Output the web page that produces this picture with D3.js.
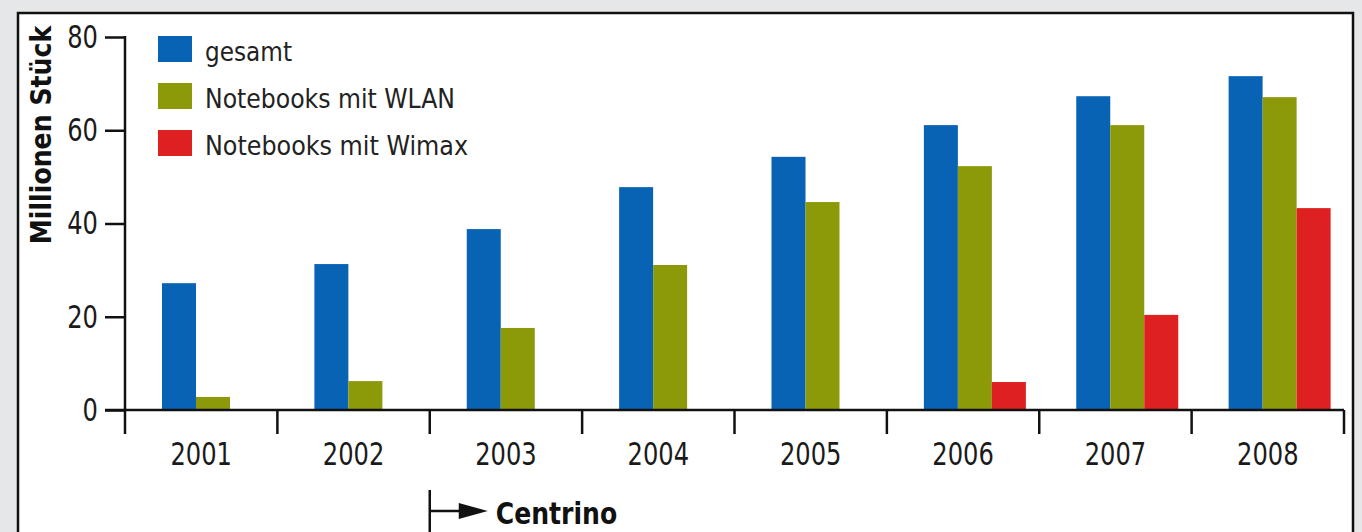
<!DOCTYPE html>
<html lang="de">
<head>
    <meta charset="UTF-8">
    <title>Notebooks mit WLAN und Wimax</title>
    <script src="https://d3js.org/d3.v7.min.js"></script>
    <style>
        body {
            margin: 0;
            background: #e6e7e9;
        }
        svg text {
            font-family: "Liberation Sans Narrow", "DejaVu Sans Condensed", sans-serif;
        }
    </style>
</head>
<body>
    <div id="chart"></div>

    <script>
        // Data (Millionen Stück)
        const years = ["2001", "2002", "2003", "2004", "2005", "2006", "2007", "2008"];
        const seriesNames = ["gesamt", "Notebooks mit WLAN", "Notebooks mit Wimax"];
        const gesamt = [27.2, 31.3, 38.8, 47.8, 54.3, 61.1, 67.3, 71.6];
        const wlan = [2.8, 6.2, 17.6, 31.1, 44.6, 52.3, 61.1, 67.1];
        const wimax = [0, 0, 0, 0, 0, 6.0, 20.4, 43.3];
        const yTicks = [0, 20, 40, 60, 80];
        const colors = ["#0863b5", "#8c9a0a", "#de2120"];

        const seriesValues = [gesamt, wlan, wimax];
        const rows = years.map((yr, i) => ({
            year: yr,
            values: seriesNames.map((s, j) => ({ key: s, value: seriesValues[j][i] }))
        }));

        const W = 1362, H = 532;
        const squeeze = 0.84; // the original font is narrower than the ones we have

        const svg = d3.select("#chart")
            .append("svg")
            .attr("width", W)
            .attr("height", H);

        // white panel with black frame
        svg.append("rect")
            .attr("x", 18)
            .attr("y", 13)
            .attr("width", 1335)
            .attr("height", 560)
            .attr("fill", "#fff")
            .attr("stroke", "#111")
            .attr("stroke-width", 2.5);

        // scales
        const x = d3.scaleBand()
            .domain(years)
            .range([125, 1344]);

        const x1 = d3.scaleBand()
            .domain(seriesNames)
            .range([37, 139]);

        const y = d3.scaleLinear()
            .domain([0, 80])
            .range([410, 37]);

        const color = d3.scaleOrdinal().domain(seriesNames).range(colors);

        // bars
        const groups = svg.selectAll(".year")
            .data(rows)
            .enter()
            .append("g")
            .attr("class", "year")
            .attr("transform", d => `translate(${x(d.year)},0)`);

        groups.selectAll("rect")
            .data(d => d.values.filter(v => v.value > 0))
            .enter()
            .append("rect")
            .attr("x", d => x1(d.key))
            .attr("width", x1.bandwidth())
            .attr("y", d => y(d.value))
            .attr("height", d => y(0) - y(d.value))
            .attr("fill", d => color(d.key));

        // y axis
        const yAxis = svg.append("g")
            .attr("transform", "translate(125,0)")
            .call(d3.axisLeft(y).tickValues(yTicks).tickSize(20).tickSizeOuter(0).tickPadding(8));
        yAxis.select(".domain").remove();
        yAxis.selectAll(".tick line").attr("stroke", "#111").attr("stroke-width", 2.5);
        yAxis.selectAll(".tick text")
            .attr("x", -27 / squeeze)
            .attr("transform", `scale(${squeeze},1)`)
            .attr("font-size", 32)
            .attr("fill", "#1a1a1a");

        svg.append("line")
            .attr("x1", 125).attr("x2", 125)
            .attr("y1", y(80) - 1).attr("y2", 434)
            .attr("stroke", "#111")
            .attr("stroke-width", 2.5);

        // x axis (labels centred in bands)
        const xAxis = svg.append("g")
            .attr("transform", `translate(0,${y(0)})`)
            .call(d3.axisBottom(x).tickSize(0).tickPadding(32));
        xAxis.select(".domain").remove();
        xAxis.selectAll(".tick text")
            .attr("transform", `scale(${squeeze},1)`)
            .attr("font-size", 32)
            .attr("fill", "#1a1a1a");

        svg.append("line")
            .attr("x1", 105).attr("x2", x.range()[1])
            .attr("y1", y(0)).attr("y2", y(0))
            .attr("stroke", "#111")
            .attr("stroke-width", 2.5);

        // band boundary ticks
        const bounds = years.map(d => x(d)).concat([x.range()[1]]);
        svg.selectAll(".bound")
            .data(bounds.slice(1))
            .enter()
            .append("line")
            .attr("class", "bound")
            .attr("x1", d => d).attr("x2", d => d)
            .attr("y1", y(0)).attr("y2", y(0) + 24)
            .attr("stroke", "#111")
            .attr("stroke-width", 2.5);

        // y axis title
        svg.append("text")
            .attr("transform", "translate(51,135) rotate(-90)")
            .attr("text-anchor", "middle")
            .attr("font-size", 28)
            .attr("font-weight", "bold")
            .attr("fill", "#111")
            .text("Millionen Stück");

        // legend
        const legend = svg.selectAll(".legend")
            .data(seriesNames)
            .enter()
            .append("g")
            .attr("class", "legend")
            .attr("transform", (d, i) => `translate(158,${36 + i * 47})`);

        legend.append("rect")
            .attr("width", 34)
            .attr("height", 26)
            .attr("fill", d => color(d));

        legend.append("text")
            .attr("x", 47)
            .attr("y", 25)
            .attr("font-size", 27)
            .attr("fill", "#222")
            .attr("textLength", d => ({ "gesamt": 87, "Notebooks mit WLAN": 250, "Notebooks mit Wimax": 263 })[d])
            .attr("lengthAdjust", "spacingAndGlyphs")
            .text(d => d);

        // Centrino marker from 2003 on
        const cx = x("2003");
        svg.append("line")
            .attr("x1", cx).attr("x2", cx)
            .attr("y1", 490).attr("y2", 540)
            .attr("stroke", "#111")
            .attr("stroke-width", 2.5);
        svg.append("line")
            .attr("x1", cx).attr("x2", cx + 34)
            .attr("y1", 511).attr("y2", 511)
            .attr("stroke", "#111")
            .attr("stroke-width", 2.5);
        svg.append("path")
            .attr("d", `M${cx + 29},503 L${cx + 58},511 L${cx + 29},519 Z`)
            .attr("fill", "#111");
        svg.append("text")
            .attr("x", (cx + 66) / 0.9)
            .attr("y", 524)
            .attr("transform", "scale(0.9,1)")
            .attr("font-size", 31)
            .attr("font-weight", "bold")
            .attr("fill", "#111")
            .text("Centrino");
    </script>
</body>
</html>
